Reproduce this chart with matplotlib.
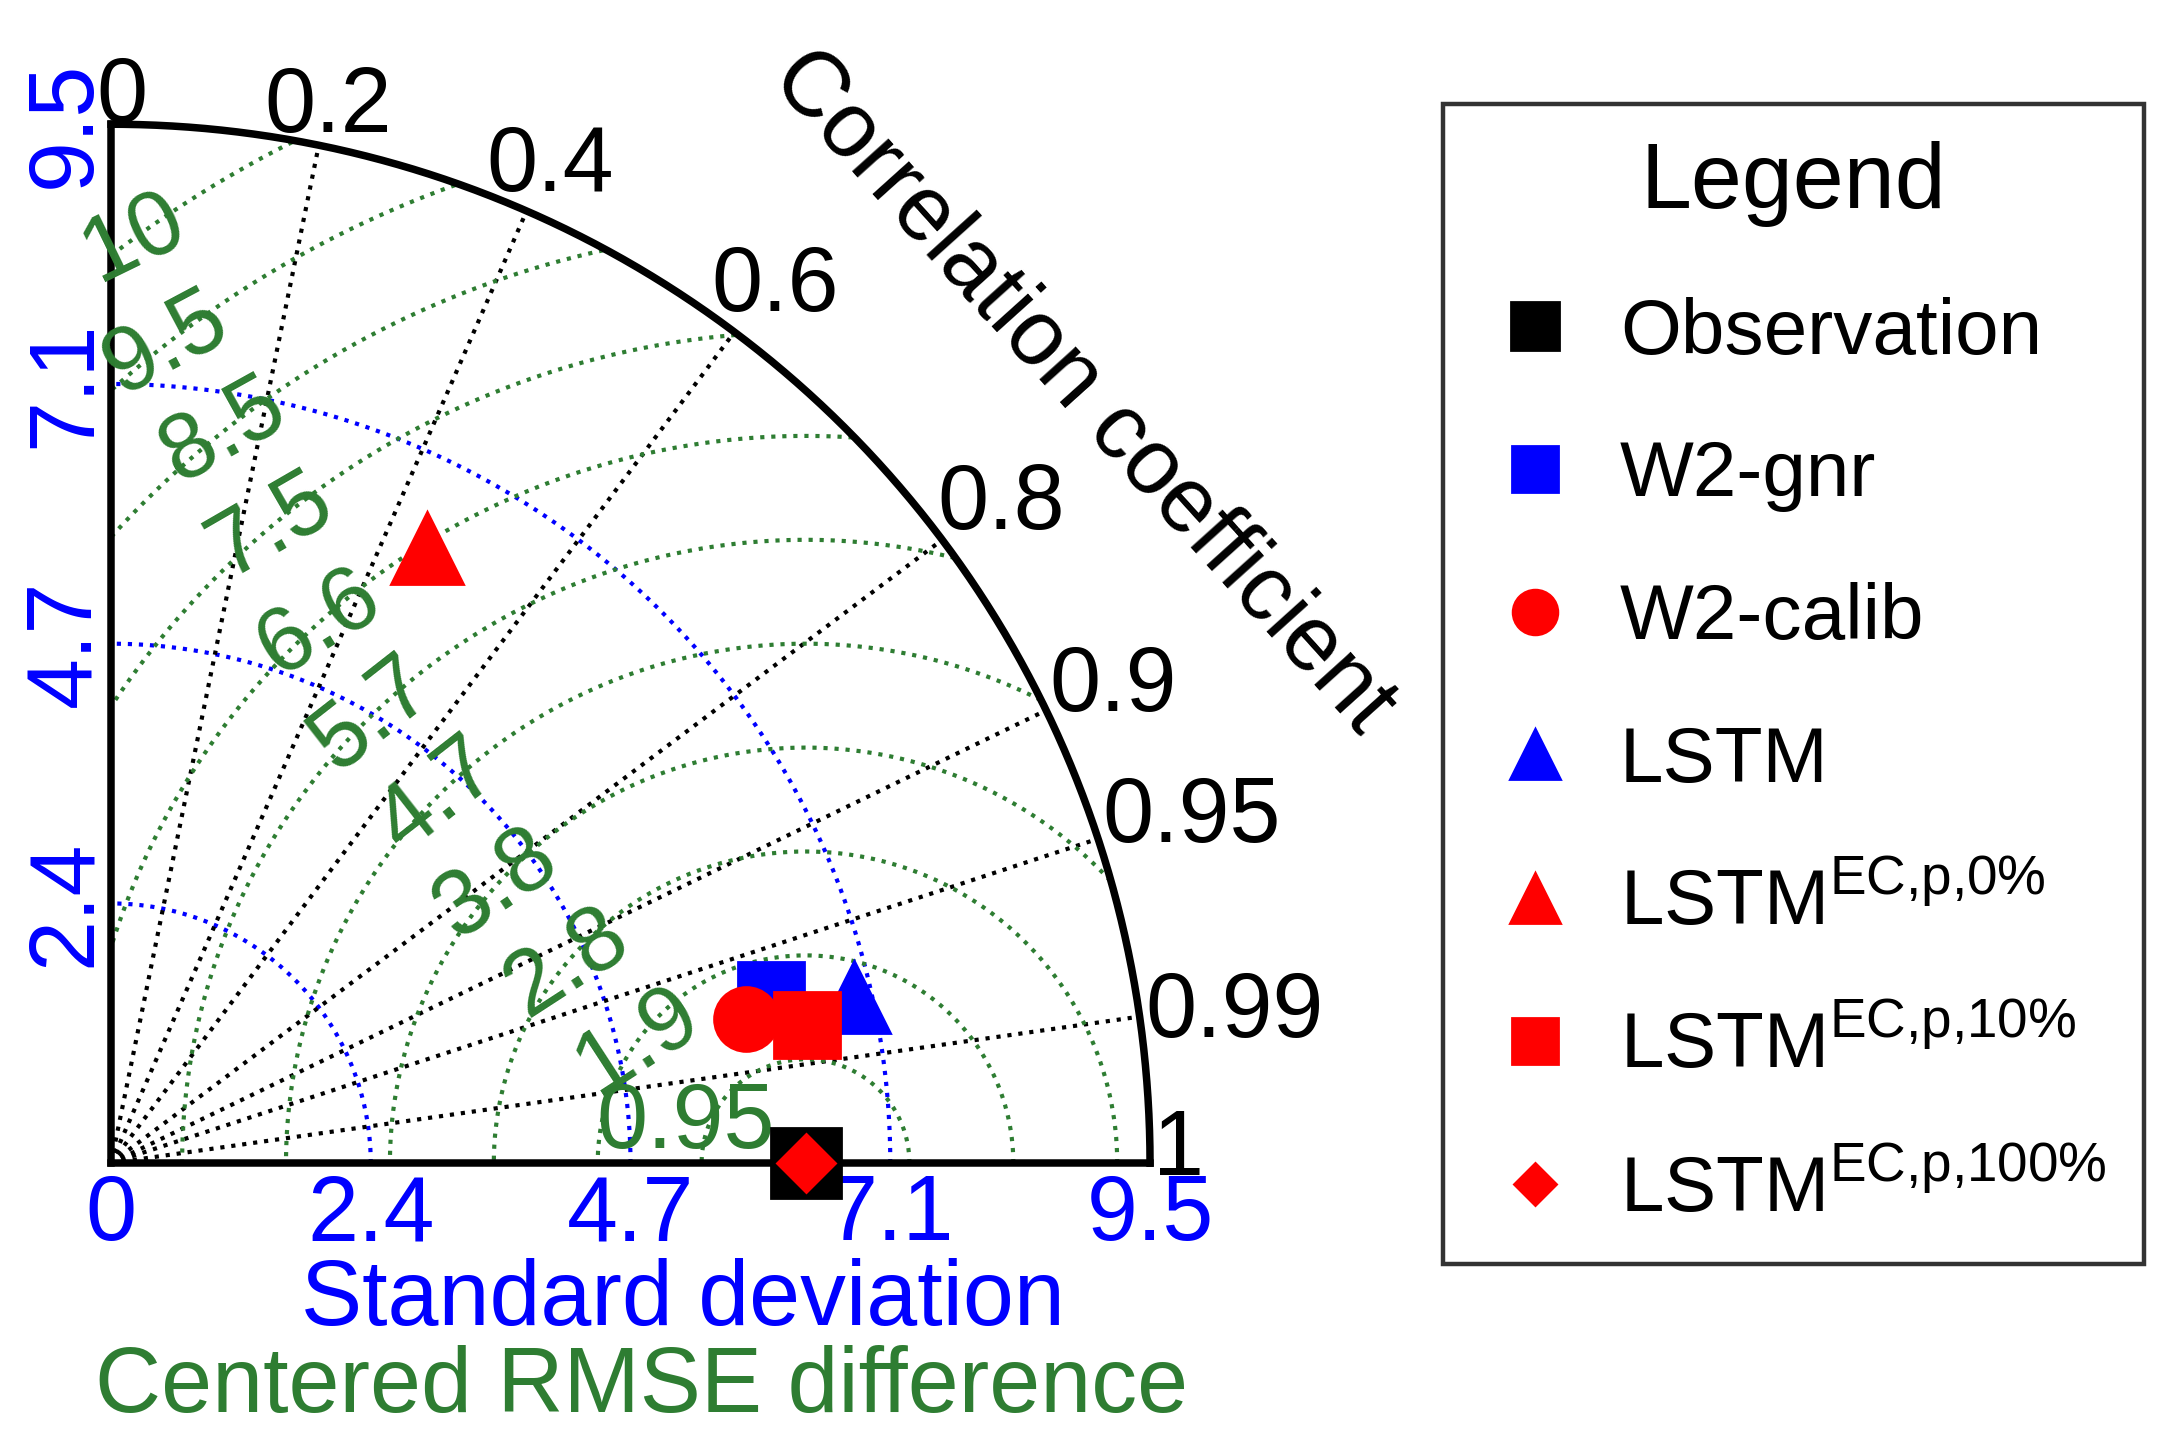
import matplotlib
matplotlib.use('Agg')
import matplotlib.pyplot as plt
import numpy as np

plt.rcParams['font.family'] = ['Liberation Sans', 'DejaVu Sans']
plt.rcParams['mathtext.fontset'] = 'custom'
plt.rcParams['mathtext.rm'] = 'Liberation Sans'

# ---- data ----
std_max = 9.5
std_ticks = [2.375, 4.75, 7.125, 9.5]
std_labels = ['2.4', '4.7', '7.1', '9.5']
corr_ticks = [0, 0.2, 0.4, 0.6, 0.8, 0.9, 0.95, 0.99, 1]
corr_labels = ['0', '0.2', '0.4', '0.6', '0.8', '0.9', '0.95', '0.99', '1']
rmse_levels = [0.95, 1.9, 2.85, 3.8, 4.75, 5.7, 6.65, 7.6, 8.55, 9.5, 10.45]
rmse_labels = ['0.95', '1.9', '2.8', '3.8', '4.7', '5.7', '6.6', '7.5', '8.5', '9.5', '10']

obs_std = 6.35
names = ['Observation', 'W2-gnr', 'W2-calib', 'LSTM',
         'LSTM$^{\\mathrm{EC{,}p{,}0\\%}}$', 'LSTM$^{\\mathrm{EC{,}p{,}10\\%}}$',
         'LSTM$^{\\mathrm{EC{,}p{,}100\\%}}$']
model_std = [6.35, 6.23, 5.95, 6.96, 6.32, 6.49, 6.35]
model_corr = [1.0, 0.969, 0.975, 0.976, 0.457, 0.981, 1.0]
markers = ['s', 's', 'o', '^', '^', 's', 'D']
colors = ['black', 'blue', 'red', 'blue', 'red', 'red', 'red']
sizes = [25, 24, 23, 26, 26, 24, 15]

green = '#2E7D32'
fs = 33

fig = plt.figure(figsize=(10.825, 7.225), dpi=200)
ax = fig.add_axes([0, 0, 1, 1])
ax.set_xlim(-1.015, 18.78)
ax.set_ylim(-2.577, 10.636)
ax.axis('off')

th = np.linspace(0, np.pi / 2, 400)

# std arcs (blue dotted)
for s in std_ticks:
    ax.plot(s * np.cos(th), s * np.sin(th), color='blue', lw=1.5, ls=':', zorder=1)

# correlation rays (black dotted)
for c in corr_ticks[1:-1]:
    a = np.arccos(c)
    ax.plot([0, std_max * np.cos(a)], [0, std_max * np.sin(a)], color='black', lw=1.5, ls=':', zorder=1)

# centered RMSE circles (green dotted)
tt = np.linspace(0, np.pi, 800)
for r in rmse_levels:
    x = obs_std + r * np.cos(tt)
    y = r * np.sin(tt)
    bad = (np.hypot(x, y) > std_max) | (x < 0)
    x[bad] = np.nan
    y[bad] = np.nan
    ax.plot(x, y, color=green, lw=1.5, ls=':', zorder=1)

# axes frame
ax.plot(std_max * np.cos(th), std_max * np.sin(th), color='black', lw=2.7, zorder=2)
ax.plot([0, 0], [0, std_max], color='black', lw=2.7, zorder=2)
ax.plot([0, std_max], [0, 0], color='black', lw=2.7, zorder=2)

# std tick labels
ax.text(0, -0.09, '0', color='blue', fontsize=fs, ha='center', va='top')
for s, lab in zip(std_ticks, std_labels):
    ax.text(s, -0.09, lab, color='blue', fontsize=fs, ha='center', va='top')
    ax.text(-0.02, s, lab, color='blue', fontsize=fs, ha='right', va='center', rotation=90)

# correlation labels, pushed outside the arc by their own size
fig.canvas.draw()
rend = fig.canvas.get_renderer()
ppu = ax.transData.transform((1, 0))[0] - ax.transData.transform((0, 0))[0]
cap = 0.716 * fs * 200 / 72 / ppu
for c, lab in zip(corr_ticks, corr_labels):
    a = np.arccos(c)
    t = ax.text(0, 0, lab, fontsize=fs, ha='center', va='center_baseline')
    bb = t.get_window_extent(rend)
    d = abs(np.cos(a)) * bb.width / 2 / ppu + abs(np.sin(a)) * cap / 2 + 0.03
    px, py = (std_max + d) * np.cos(a), (std_max + d) * np.sin(a)
    if c == 1:
        py += 0.2   # sits a little above the axis end in the original
    if c == 0:
        px += 0.1
    t.set_position((px, py))

# RMSE labels along the circles
lab_ang = [162, 144, 140, 138, 135, 134, 132, 130, 128.5, 128, 126]
lab_rot = [0, 33, 33, 34, 38, 38, 32, 30, 29, 28, 26]
for r, lab, ang, rot in zip(rmse_levels, rmse_labels, lab_ang, lab_rot):
    rr = r if r > 1 else 1.15
    a = np.deg2rad(ang)
    ax.text(obs_std + rr * np.cos(a), rr * np.sin(a), lab, color=green, fontsize=fs,
            ha='center', va='center', rotation=rot, rotation_mode='anchor', zorder=3)

ax.text(8.884, 7.057, 'Correlation coefficient', fontsize=fs, rotation=-48,
        ha='center', va='center', rotation_mode='anchor')
ax.text(5.23, -1.256, 'Standard deviation', color='blue', fontsize=fs, ha='center', va='center')
ax.text(4.85, -2.054, 'Centered RMSE difference', color=green, fontsize=fs, ha='center', va='center')

# model points
handles = []
for i in range(len(names)):
    a = np.arccos(model_corr[i])
    h, = ax.plot(model_std[i] * np.cos(a), model_std[i] * np.sin(a), ls='none',
                 marker=markers[i], color=colors[i], ms=sizes[i], mec=colors[i], zorder=5 + i)
    handles.append(h)

leg = fig.legend(handles, names, loc='upper left', bbox_to_anchor=(0.6665, 0.928),
                 fontsize=28.2, title='Legend', title_fontsize=33, markerscale=0.7,
                 frameon=True, fancybox=False, edgecolor='black', borderaxespad=0,
                 borderpad=0.47, handlelength=1.42, handletextpad=0.37, labelspacing=0.89)
leg.get_frame().set_linewidth(1.6)

fig.savefig('out.png', dpi=200)
